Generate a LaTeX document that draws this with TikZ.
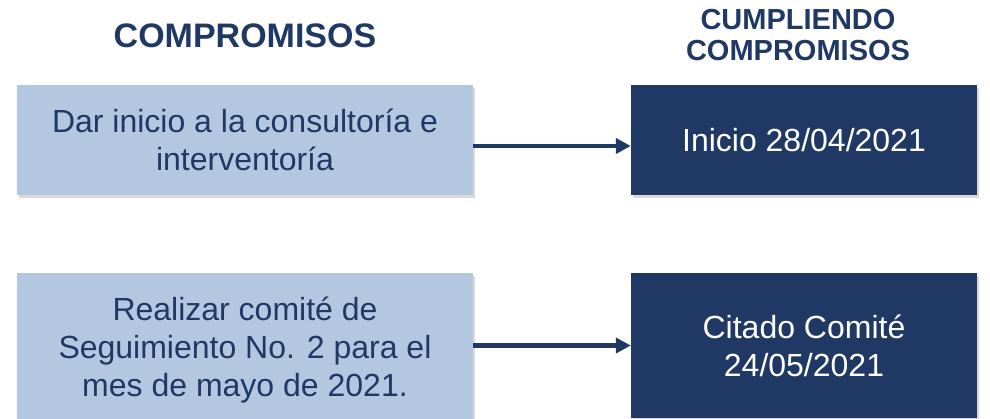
\documentclass[tikz,border=0pt]{standalone}
\usepackage{fontspec}
\setmainfont{Liberation Sans}
\usetikzlibrary{arrows.meta,shadows}
\definecolor{azulosc}{HTML}{1F3864}
\definecolor{azulcla}{HTML}{B4C7E1}
\begin{document}
\begin{tikzpicture}[
        x=1pt, y=-1pt,
        font=\fontsize{32}{38}\selectfont
    ]
    \tikzset{
        cajac/.style = {rectangle, fill=azulcla, text=azulosc, align=center, inner sep=0pt,
            minimum width=456pt, drop shadow={shadow xshift=2pt, shadow yshift=-3pt, opacity=.3}},
        cajar/.style = {rectangle, fill=azulosc, text=white, align=center, inner sep=0pt,
            minimum width=346pt, drop shadow={shadow xshift=2pt, shadow yshift=-3pt, opacity=.3}},
        titulo/.style = {text=azulosc, align=center, inner sep=0pt},
        flecha/.style = {-{Triangle[length=15pt,width=15pt]}, line width=4.5pt, draw=azulosc},
    }
    \useasboundingbox (0,0) rectangle (990,418);
    \node[titulo, font=\fontsize{34}{38}\selectfont\bfseries] at (245,36) (t1) {COMPROMISOS};
    \node[titulo, font=\fontsize{29}{31}\selectfont\bfseries] at (798,35) (t2) {CUMPLIENDO\\COMPROMISOS};
    %
    \node[cajac, minimum height=110pt] at (245,140) (c1) {Dar inicio a la consultoría e\\interventoría};
    \node[cajar, minimum height=110pt] at (804,140) (r1) {Inicio 28/04/2021};
    \node[cajac, minimum height=154pt] at (245,350) (c2) {Realizar comité de\\Seguimiento No. 2 para el\\mes de mayo de 2021.};
    \node[cajar, minimum height=145pt] at (804,345.5) (r2) {Citado Comité\\24/05/2021};
    %
    \draw[flecha] ([yshift=-6pt]c1.east) -- ([yshift=-6pt]r1.west);
    \draw[flecha] (c2.east |- r2.west) -- (r2.west);
\end{tikzpicture}
\end{document}
